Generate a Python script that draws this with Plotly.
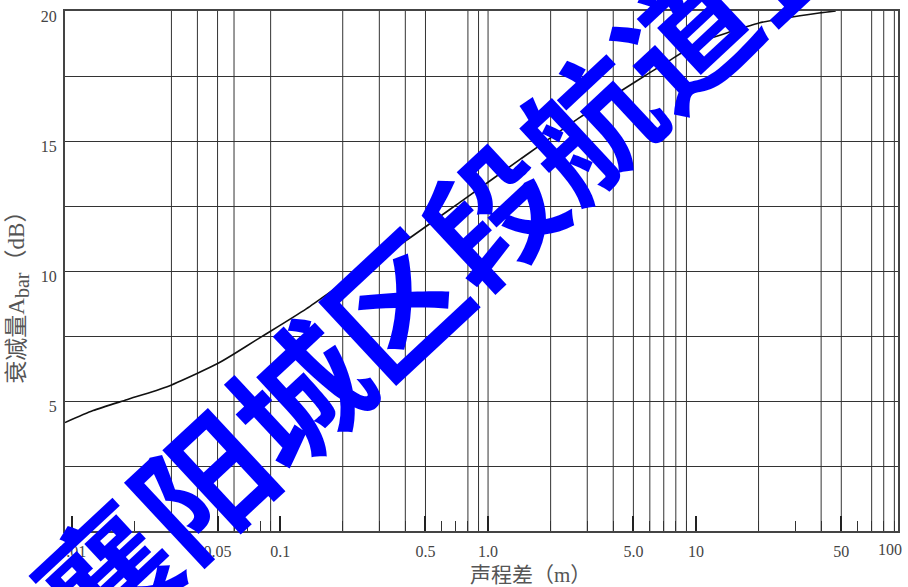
import math
import plotly.graph_objects as go

# Attenuation curve: path-length difference (m) vs barrier attenuation (dB)
path_diff = [0.00923, 0.0126, 0.0183, 0.0284, 0.0396, 0.0503, 0.0594, 0.0797, 0.0907,
             0.134, 0.21, 0.398, 0.755, 1.43, 2.72, 5.16, 7.17, 10.4, 14.9, 20.1,
             27.0, 39.1, 47.0]
attenuation = [4.17, 4.63, 5.05, 5.54, 6.05, 6.45, 6.79, 7.43, 7.70,
               8.55, 9.65, 11.14, 12.72, 14.30, 15.87, 17.30, 18.01, 18.80, 19.22, 19.54,
               19.73, 19.92, 20.0]

# Log-paper grid
grid_x = [0.03, 0.04, 0.05, 0.06, 0.09, 0.2, 0.3, 0.4, 0.5, 0.8, 0.9, 1, 2, 3, 4, 5,
          6, 7, 8, 9, 20, 40, 50, 70, 80, 90]
major_ticks = [0.01, 0.05, 0.1, 0.5, 1, 5, 10, 50]
major_labels = ["0.01", "0.05", "0.1", "0.5", "1.0", "5.0", "10", "50"]
minor_ticks = [0.02, 0.03, 0.04, 0.06, 0.07, 0.08, 0.09, 0.2, 0.3, 0.4, 0.6, 0.7, 0.8, 0.9,
               2, 3, 4, 6, 7, 8, 9, 20, 30, 40, 60, 70, 80, 90]
edge_label = ("100", 100)

y_ticks = [2.5, 5, 7.5, 10, 12.5, 15, 17.5, 20]
y_labels = ["", "5", "", "10", "", "15", "", "20"]

x_min, x_max = 0.00923, 93.7
y_min, y_max = 0, 20

x_title = "声程差（m）"
y_title = "衰减量A<sub><span style=\"font-size:20px\">bar</span></sub>（dB）"
stamp = "襄阳城区段航道整"

FONT = "Liberation Serif, Noto Sans CJK SC, serif"
GRID = "#333333"
TXT = "#444444"

fig = go.Figure()

# vertical grid lines of the log paper
gx, gy = [], []
for v in grid_x:
    gx += [v, v, None]
    gy += [y_min, y_max, None]
fig.add_trace(go.Scatter(x=gx, y=gy, mode="lines",
                         line=dict(color=GRID, width=1), hoverinfo="skip",
                         showlegend=False))

fig.add_trace(go.Scatter(x=path_diff, y=attenuation, mode="lines",
                         line=dict(color="#111111", width=1.6, shape="spline",
                                   smoothing=0.6),
                         showlegend=False))

fig.update_layout(
    width=908, height=587,
    margin=dict(l=65, r=9, t=8, b=56),
    paper_bgcolor="white", plot_bgcolor="white",
    font=dict(family=FONT, color=TXT, size=16),
    xaxis=dict(
        type="log", range=[math.log10(x_min), math.log10(x_max)],
        tickmode="array", tickvals=major_ticks, ticktext=major_labels,
        ticks="inside", ticklen=15, tickwidth=1.5, tickcolor="#222222",
        ticklabelstandoff=5,
        showgrid=False, zeroline=False,
        showline=True, mirror=True, linecolor="#444444", linewidth=2,
        minor=dict(tickmode="array", tickvals=minor_ticks, ticks="inside",
                   ticklen=10, tickwidth=1, tickcolor="#333333", showgrid=False),
        tickfont=dict(size=16, color=TXT),
    ),
    yaxis=dict(
        range=[y_min, y_max],
        tickmode="array", tickvals=y_ticks, ticktext=y_labels,
        ticks="", showgrid=True, gridcolor=GRID, gridwidth=1,
        zeroline=False, ticklabelshift=5, ticklabelstandoff=3,
        showline=True, mirror=True, linecolor="#444444", linewidth=2,
        tickfont=dict(size=16, color=TXT),
    ),
)

# edge tick label at x = 100, placed through the log mapping of the axis
lo, hi = math.log10(x_min), math.log10(x_max)
edge_pos = (math.log10(edge_label[1]) - lo) / (hi - lo)
fig.add_annotation(x=edge_pos, xref="paper", y=0, yref="paper",
                   text=edge_label[0], showarrow=False, xanchor="right",
                   yanchor="middle", yshift=-18,
                   font=dict(family=FONT, size=16, color=TXT))

# axis titles
fig.add_annotation(x=0.559, xref="paper", y=-0.084, yref="paper",
                   text=x_title, showarrow=False, xanchor="center", yanchor="middle",
                   font=dict(family=FONT, size=21, color="#555555"))
fig.add_annotation(x=-0.056, xref="paper", y=0.461, yref="paper",
                   text=y_title, showarrow=False, textangle=-90,
                   xanchor="center", yanchor="middle",
                   font=dict(family=FONT, size=23, color="#555555"))

# diagonal stamp across the chart
fig.add_annotation(x=0.45, xref="paper", y=0.53, yref="paper",
                   text="<b>" + stamp + "</b>", showarrow=False, textangle=-43,
                   xanchor="center", yanchor="middle",
                   font=dict(family="Noto Sans CJK SC", size=132, color="#0000FF"))

fig.write_html("out.html")
